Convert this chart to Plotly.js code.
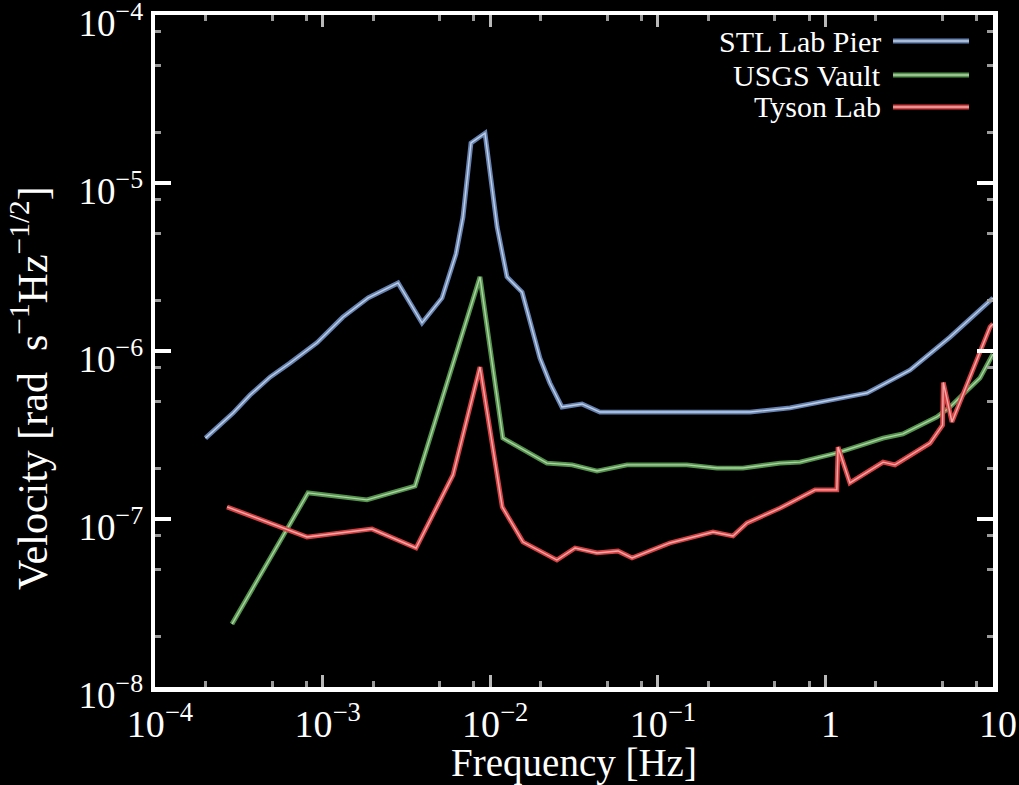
<!DOCTYPE html>
<html>
<head>
<meta charset="utf-8">
<script src="https://cdn.plot.ly/plotly-3.0.1.min.js"></script>
<style>
  html, body { margin: 0; padding: 0; background: #000; }
  #plot { width: 1019px; height: 785px; }
</style>
</head>
<body>
<div id="plot"></div>
<script>
// Rotational velocity noise spectra at three sites
const freqPier = [2.0e-4, 2.92e-4, 3.69e-4, 4.86e-4, 6.39e-4, 9.26e-4, 1.32e-3, 1.87e-3, 2.82e-3, 3.92e-3,
  5.16e-3, 6.25e-3, 6.88e-3, 7.68e-3, 9.31e-3, 1.10e-2, 1.26e-2, 1.55e-2, 1.98e-2, 2.27e-2,
  2.68e-2, 3.53e-2, 4.52e-2, 0.179, 0.355, 0.615, 1.07, 1.77, 3.2, 5.54, 10];
const velPier = [3.03e-7, 4.27e-7, 5.47e-7, 7.0e-7, 8.48e-7, 1.12e-6, 1.59e-6, 2.07e-6, 2.54e-6, 1.47e-6,
  2.07e-6, 3.78e-6, 6.27e-6, 1.73e-5, 1.98e-5, 5.47e-6, 2.76e-6, 2.24e-6, 9.08e-7, 6.45e-7,
  4.64e-7, 4.84e-7, 4.33e-7, 4.35e-7, 4.33e-7, 4.58e-7, 5.11e-7, 5.62e-7, 7.7e-7, 1.21e-6, 2.07e-6];

const freqVault = [2.88e-4, 8.18e-4, 1.84e-3, 3.56e-3, 8.69e-3, 1.19e-2, 2.18e-2, 3.08e-2, 4.34e-2, 6.55e-2,
  0.149, 0.2255, 0.322, 0.536, 0.705, 1.17, 2.21, 2.90, 4.63, 5.54, 8.36, 10];
const velVault = [2.37e-8, 1.43e-7, 1.30e-7, 1.57e-7, 2.76e-6, 3.03e-7, 2.15e-7, 2.10e-7, 1.93e-7, 2.10e-7,
  2.10e-7, 2.01e-7, 2.01e-7, 2.15e-7, 2.18e-7, 2.47e-7, 3.03e-7, 3.21e-7, 4.05e-7, 4.64e-7, 6.9e-7, 9.6e-7];

const freqTyson = [2.69e-4, 8.07e-4, 1.97e-3, 3.61e-3, 6.0e-3, 8.69e-3, 1.18e-2, 1.57e-2, 2.50e-2, 3.21e-2,
  4.34e-2, 5.79e-2, 7.02e-2, 0.118, 0.2135, 0.281, 0.340, 0.536, 0.867, 1.17,
  1.19, 1.40, 2.21, 2.60, 4.21, 5.0, 5.05, 5.69, 9.6, 10];
const velTyson = [1.18e-7, 7.81e-8, 8.72e-8, 6.72e-8, 1.83e-7, 8.03e-7, 1.18e-7, 7.29e-8, 5.70e-8, 6.72e-8,
  6.28e-8, 6.45e-8, 5.86e-8, 7.2e-8, 8.37e-8, 7.92e-8, 9.47e-8, 1.16e-7, 1.49e-7, 1.49e-7,
  2.68e-7, 1.64e-7, 2.18e-7, 2.10e-7, 2.83e-7, 3.62e-7, 6.5e-7, 3.78e-7, 1.39e-6, 1.45e-6];

const seriesNames = ['STL Lab Pier', 'USGS Vault', 'Tyson Lab'];

const xTickVals = [1e-4, 1e-3, 1e-2, 1e-1, 1, 10];
const xTickText = ['10<sup>−4</sup>', '10<sup>−3</sup>', '10<sup>−2</sup>', '10<sup>−1</sup>', '1', '10'];
const yTickVals = [1e-8, 1e-7, 1e-6, 1e-5, 1e-4];
const yTickText = ['10<sup>−8</sup>', '10<sup>−7</sup>', '10<sup>−6</sup>', '10<sup>−5</sup>', '10<sup>−4</sup>'];

const xTitle = 'Frequency [Hz]';
const yTitle = 'Velocity [rad  s<sup>−1</sup>Hz<sup>−1/2</sup>]';

// minor ticks at 2, 5 and 8 within each decade
function minorVals(lo, hi) {
  const out = [];
  for (let e = lo; e < hi; e++) {
    [2, 5, 8].forEach(m => out.push(m * Math.pow(10, e)));
  }
  return out;
}

const serif = 'Liberation Serif, serif';
const styles = [
  { outer: 'rgb(102,131,177)', inner: 'rgb(192,207,228)' },
  { outer: 'rgb(84,146,78)', inner: 'rgb(172,212,162)' },
  { outer: 'rgb(212,66,68)', inner: 'rgb(246,168,168)' }
];
const data = [[freqPier, velPier], [freqVault, velVault], [freqTyson, velTyson]];

const traces = [];
data.forEach((d, i) => {
  traces.push({ x: d[0], y: d[1], mode: 'lines', name: seriesNames[i], showlegend: false,
    line: { color: styles[i].outer, width: 4.8 }, hoverinfo: 'skip' });
  traces.push({ x: d[0], y: d[1], mode: 'lines', name: seriesNames[i], showlegend: false,
    line: { color: styles[i].inner, width: 1.4 } });
});

// legend drawn as right-aligned labels followed by a line sample
const legendY = [0.9613, 0.9107, 0.8631];
const annotations = seriesNames.map((n, i) => ({
  xref: 'paper', yref: 'paper', x: 0.8687, y: legendY[i], xanchor: 'right', yanchor: 'middle',
  text: n, showarrow: false, font: { family: serif, size: 30, color: '#ffffff' }
}));
// vertical axis title, placed beside the tick labels
annotations.push({
  xref: 'paper', yref: 'paper', x: -0.149, y: 0.445, xanchor: 'center', yanchor: 'middle',
  textangle: -90, text: yTitle, showarrow: false,
  font: { family: serif, size: 42, color: '#ffffff' }
});

const shapes = [];
seriesNames.forEach((n, i) => {
  shapes.push({ type: 'line', xref: 'paper', yref: 'paper', x0: 0.8807, x1: 0.9714, y0: legendY[i], y1: legendY[i],
    line: { color: styles[i].outer, width: 4.8 } });
  shapes.push({ type: 'line', xref: 'paper', yref: 'paper', x0: 0.8807, x1: 0.9714, y0: legendY[i], y1: legendY[i],
    line: { color: styles[i].inner, width: 1.4 } });
});

const layout = {
  width: 1019, height: 785,
  paper_bgcolor: '#000000', plot_bgcolor: '#000000',
  margin: { l: 155, r: 26, t: 15, b: 98 },
  font: { family: serif, color: '#ffffff' },
  showlegend: false,
  xaxis: {
    type: 'log', range: [-4, 1], autorange: false,
    showgrid: false, zeroline: false,
    showline: true, linecolor: '#ffffff', linewidth: 4.5, mirror: 'allticks',
    ticks: 'inside', ticklen: 12, tickwidth: 3, tickcolor: '#b8b8b8',
    tickmode: 'array', tickvals: xTickVals, ticktext: xTickText,
    ticklabelshift: 5, ticklabeloverflow: 'allow',
    tickfont: { family: serif, size: 38, color: '#ffffff' },
    minor: { tickmode: 'array', tickvals: minorVals(-4, 1), ticks: 'inside', ticklen: 6, tickwidth: 3, tickcolor: '#9a9a9a', showgrid: false },
    title: { text: xTitle, font: { family: serif, size: 39, color: '#ffffff' }, standoff: 0 }
  },
  yaxis: {
    type: 'log', range: [-8, -4], autorange: false,
    showgrid: false, zeroline: false,
    showline: true, linecolor: '#ffffff', linewidth: 4.5, mirror: 'allticks',
    ticks: 'inside', ticklen: 16, tickwidth: 4, tickcolor: '#ffffff',
    tickmode: 'array', tickvals: yTickVals, ticktext: yTickText,
    ticklabelshift: 8, ticklabeloverflow: 'allow',
    tickfont: { family: serif, size: 37, color: '#ffffff' },
    minor: { tickmode: 'array', tickvals: minorVals(-8, -4), ticks: 'inside', ticklen: 6, tickwidth: 3, tickcolor: '#9a9a9a', showgrid: false }
  },
  annotations: annotations,
  shapes: shapes
};

Plotly.newPlot('plot', traces, layout, { displayModeBar: false, staticPlot: true });
</script>
</body>
</html>
